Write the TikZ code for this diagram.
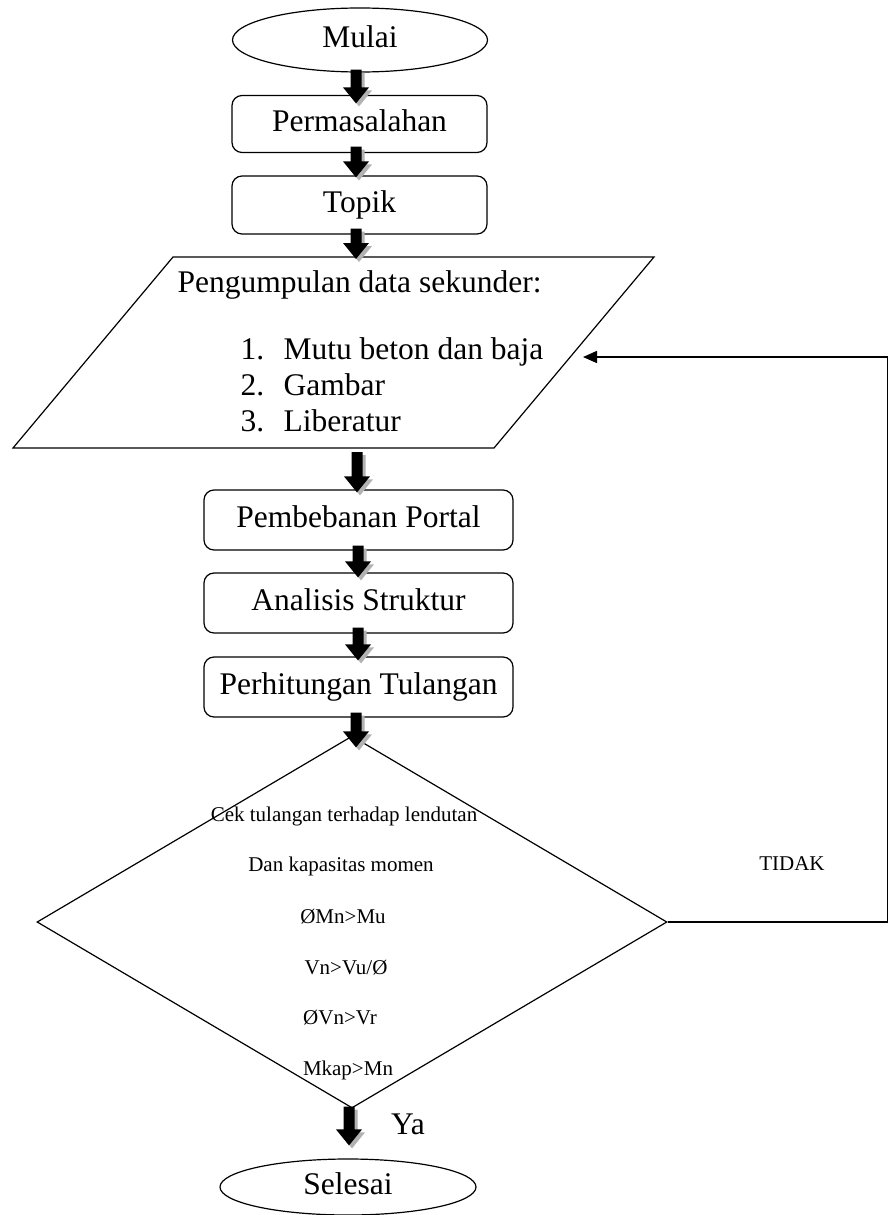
\documentclass[tikz,border=0pt]{standalone}
\usepackage{fontspec}
\setmainfont{Liberation Serif}
\usetikzlibrary{shapes.geometric,arrows.meta,calc}
\newcommand{\bigfnt}{\fontsize{31.5}{36}\selectfont}
\newcommand{\smallfnt}{\fontsize{21}{25}\selectfont}
\newcommand{\blockarrow}[2]{%
 \fill[black!30] let \p1=#1, \p2=#2 in
  (\x1-2.5pt,\y1-3pt) -- (\x1+8.5pt,\y1-3pt) -- (\x1+8.5pt,\y2+13pt) -- (\x1+16pt,\y2+13pt) -- (\x1+3pt,\y2-3pt) -- (\x1-10pt,\y2+13pt) -- (\x1-2.5pt,\y2+13pt) -- cycle;
 \fill[black] let \p1=#1, \p2=#2 in
  (\x1-5.5pt,\y1) -- (\x1+5.5pt,\y1) -- (\x1+5.5pt,\y2+16pt) -- (\x1+13pt,\y2+16pt) -- (\x1,\y2) -- (\x1-13pt,\y2+16pt) -- (\x1-5.5pt,\y2+16pt) -- cycle;
}
\begin{document}
\begin{tikzpicture}[x=1pt,y=-1pt,line width=1.2pt,
  bigtxt/.style={font=\bigfnt, text height=22pt, text depth=7pt, inner sep=0pt},
  smalltxt/.style={font=\smallfnt, text height=14pt, text depth=5pt, inner sep=0pt},
  term/.style={draw, ellipse, minimum width=255pt, inner sep=0pt, font=\bigfnt, text height=22pt, text depth=7pt},
  proc/.style={draw, rounded corners=10pt, inner sep=0pt, minimum height=58pt, font=\bigfnt, text height=22pt, text depth=7pt},
  loopline/.style={line width=1.5pt, -{Triangle[length=14pt,width=12pt]}}]
\fill[white] (0,0) rectangle (890,1215);
\useasboundingbox (0,0) rectangle (890,1215);

% terminals and processes
\node[term, minimum height=64pt] (mulai) at (360,40) {Mulai};
\node[proc, minimum width=255pt, minimum height=57pt] (perm) at (359.5,124) {Permasalahan};
\node[proc, minimum width=255pt] (topik) at (359.5,205) {Topik};

% data parallelogram
\coordinate (p1) at (173,257);
\coordinate (p2) at (654,257);
\coordinate (p3) at (494,448);
\coordinate (p4) at (13,448);
\draw (p1) -- (p2) -- (p3) -- (p4) -- cycle;
\coordinate (ptop) at (356,257);
\coordinate (pbot) at (357,448);
\coordinate (loopin) at (583,357);
\node[bigtxt, anchor=west] (pt0) at (177,285) {Pengumpulan data sekunder:};
\node[bigtxt, anchor=west] (n1) at (240,352) {1.};
\node[bigtxt, anchor=west] (i1) at (283,352) {Mutu beton dan baja};
\node[bigtxt, anchor=west] (n2) at (240,388) {2.};
\node[bigtxt, anchor=west] (i2) at (283,388) {Gambar};
\node[bigtxt, anchor=west] (n3) at (240,424) {3.};
\node[bigtxt, anchor=west] (i3) at (283,424) {Liberatur};

\node[proc, minimum width=309pt, minimum height=60pt] (pemb) at (358.5,520) {Pembebanan Portal};
\node[proc, minimum width=309pt, minimum height=60pt] (anal) at (358.5,603) {Analisis Struktur};
\node[proc, minimum width=309pt, minimum height=60pt] (perh) at (358.5,687) {Perhitungan Tulangan};

% decision
\node[draw, diamond, minimum width=630pt, minimum height=372pt, inner sep=0pt] (cek) at (352,922) {};
\node[smalltxt] (d1) at (344,817) {Cek tulangan terhadap lendutan};
\node[smalltxt] (d2) at (341,867) {Dan kapasitas momen};
\node[smalltxt] (d3) at (343,919) {ØMn>Mu};
\node[smalltxt] (d4) at (346,970) {Vn>Vu/Ø};
\node[smalltxt] (d5) at (340,1020) {ØVn>Vr};
\node[smalltxt] (d6) at (348,1071) {Mkap>Mn};

\node[term, minimum width=256pt, minimum height=56pt] (selesai) at (348,1187) {Selesai};

% labels
\node[smalltxt] (tidak) at (792,866) {TIDAK};
\node[bigtxt] (ya) at (408,1127) {Ya};

% loop back
\draw[loopline] (cek.east) -- ++(220,0) |- (loopin);

% block arrows
\blockarrow{([xshift=-4pt,yshift=3pt]mulai.south)}{([xshift=-3.5pt,yshift=-8.5pt]perm.north)}
\blockarrow{([xshift=-3.5pt,yshift=6.5pt]perm.south)}{([yshift=-2pt]topik.north)}
\blockarrow{([xshift=-3.5pt,yshift=6pt]topik.south)}{([yshift=-2pt]ptop)}
\blockarrow{([yshift=-4pt]pbot)}{([yshift=-3pt]pemb.north)}
\blockarrow{([xshift=-0.5pt,yshift=5pt]pemb.south)}{([yshift=-5pt]anal.north)}
\blockarrow{([xshift=-0.5pt,yshift=6pt]anal.south)}{([yshift=-4pt]perh.north)}
\blockarrow{([xshift=-2.5pt,yshift=5pt]perh.south)}{([yshift=-12pt]cek.north)}
\blockarrow{([xshift=-3pt,yshift=2pt]cek.south)}{([yshift=13pt]selesai.north)}
\end{tikzpicture}
\end{document}
